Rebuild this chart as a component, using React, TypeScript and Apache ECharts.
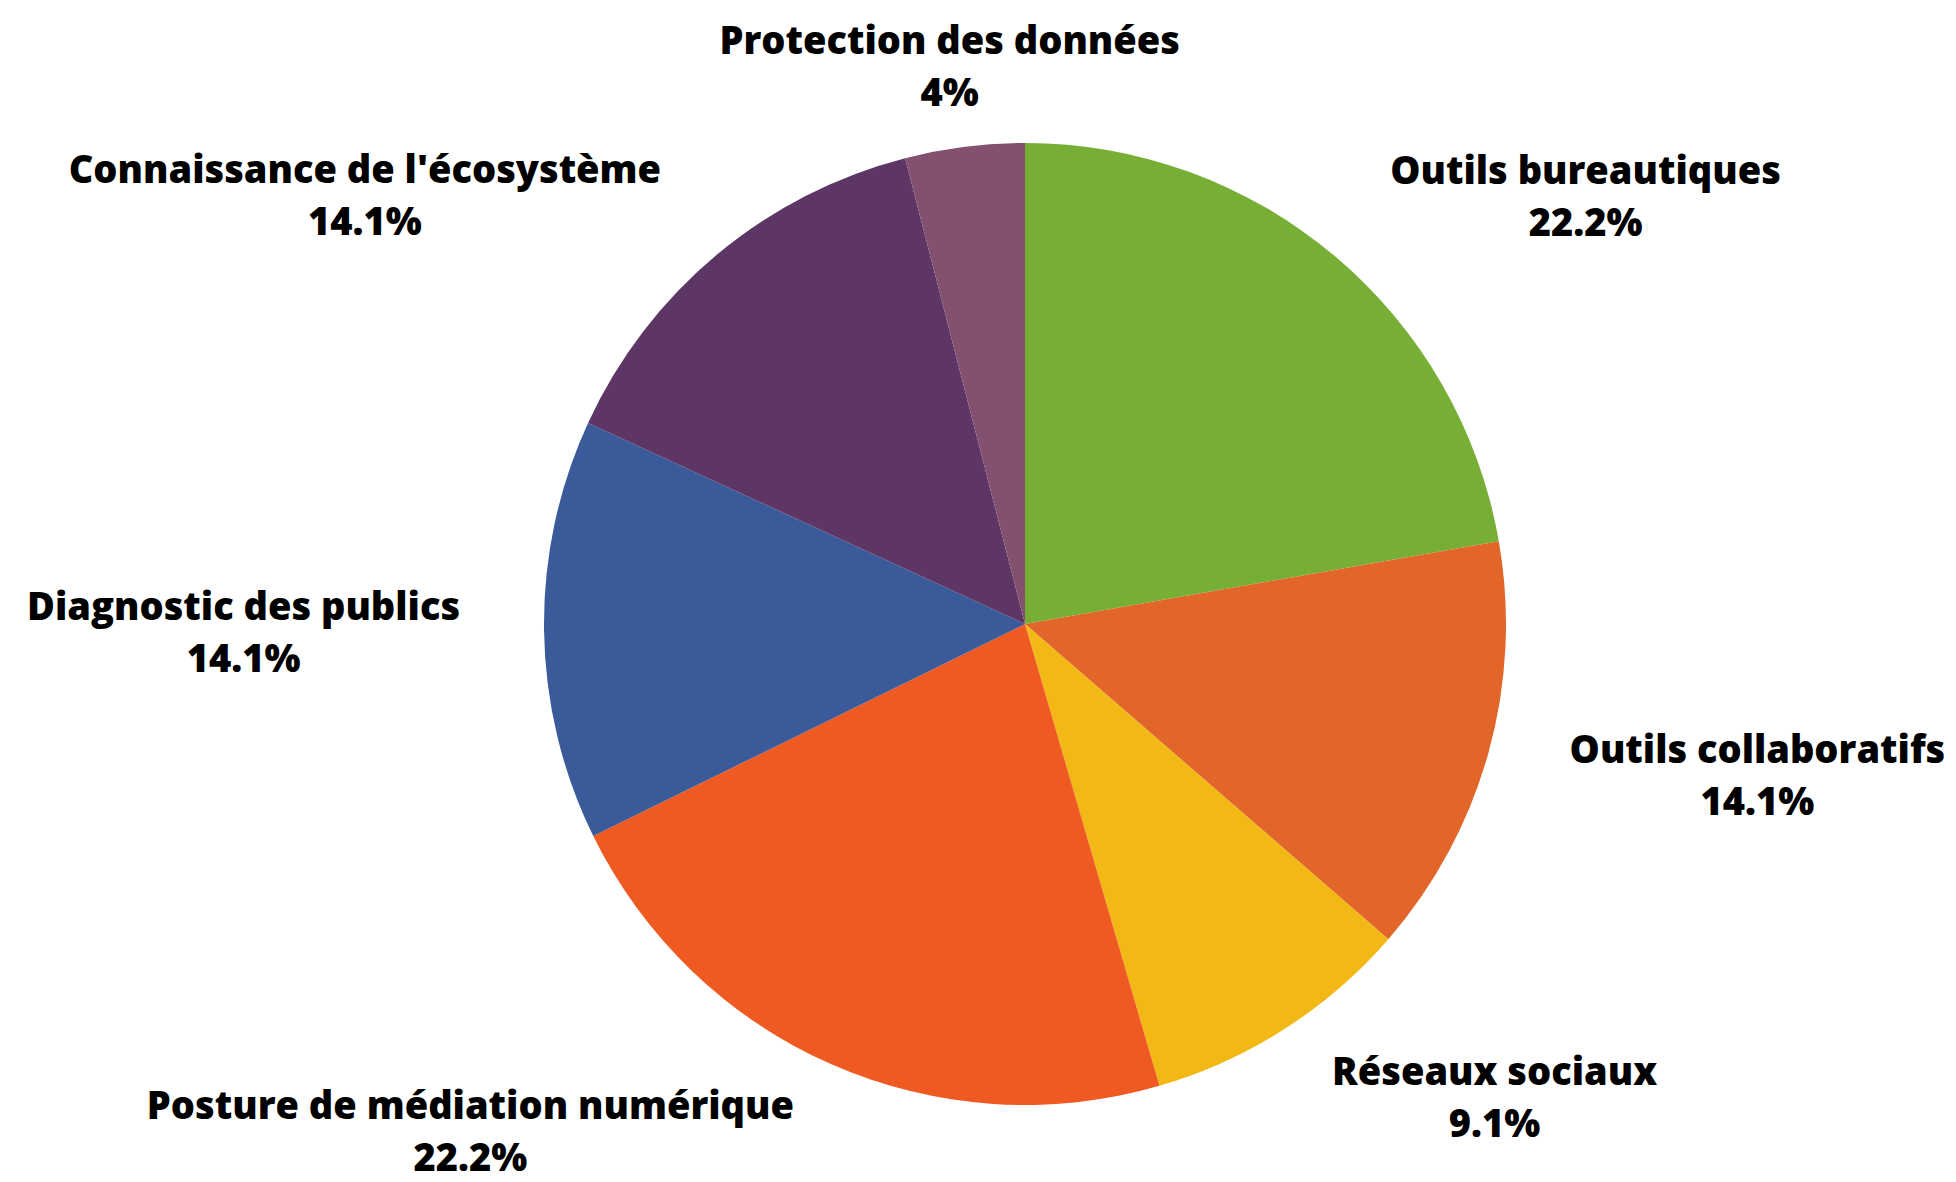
import React, { useEffect, useRef } from "react";
import * as echarts from "echarts";

const categories: string[] = [
  "Outils bureautiques",
  "Outils collaboratifs",
  "Réseaux sociaux",
  "Posture de médiation numérique",
  "Diagnostic des publics",
  "Connaissance de l'écosystème",
  "Protection des données",
];
const values: number[] = [22.2, 14.1, 9.1, 22.2, 14.1, 14.1, 4];
const colors: string[] = [
  "#77AF36",
  "#E2662A",
  "#F2B815",
  "#EF5A23",
  "#3A5A99",
  "#5E3666",
  "#84506F",
];

export default function App() {
  const ref = useRef<HTMLDivElement>(null);
  useEffect(() => {
    if (!ref.current) return;
    const chart = echarts.init(ref.current, undefined, { renderer: "svg" });
    const centeredIdx = categories.indexOf("Protection des données");
    const bottomIdx = categories.indexOf("Posture de médiation numérique");
    chart.setOption({
      animation: false,
      backgroundColor: "#ffffff",
      series: [
        {
          type: "pie",
          center: [1025, 624],
          radius: 481,
          startAngle: 90,
          clockwise: true,
          avoidLabelOverlap: false,
          data: categories.map((name, i) => ({
            name,
            value: values[i],
            itemStyle: { color: colors[i] },
          })),
          label: {
            show: true,
            position: "outside",
            alignTo: "none",
            bleedMargin: 0,
            overflow: "none",
            formatter: (p: any) => `{n|${p.name}}\n{n|${p.value}%}`,
            rich: {
              n: {
                align: "center",
                fontFamily: "'Open Sans', 'Noto Sans', sans-serif",
                fontWeight: 800,
                fontSize: 38,
                lineHeight: 52,
                color: "#000000",
              },
            },
          },
          labelLine: { show: false, length: 79, length2: 0 },
          labelLayout: (params: any) => {
            if (params.dataIndex === centeredIdx) return { align: "center", dy: -3 };
            if (params.dataIndex === bottomIdx) return { dy: -6 };
            return {};
          },
          emphasis: { disabled: true },
        },
      ],
    });
    return () => chart.dispose();
  }, []);
  return (
    <div
      ref={ref}
      style={{ position: "fixed", left: 0, top: 0, width: 1956, height: 1182 }}
    />
  );
}
